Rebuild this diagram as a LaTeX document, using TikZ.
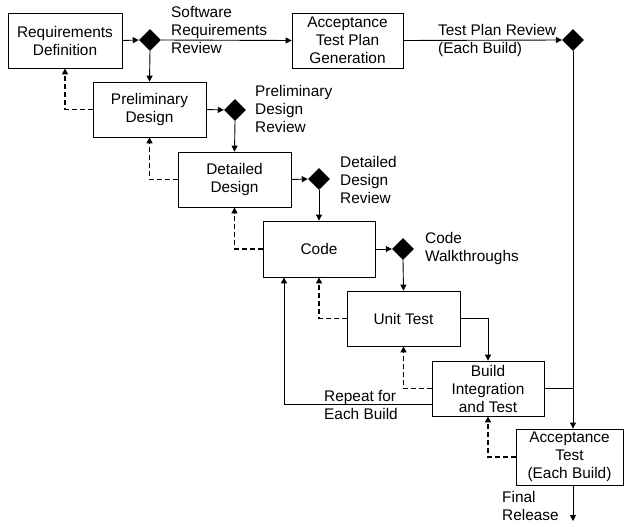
\documentclass[tikz,border=0pt]{standalone}
\usepackage{fontspec}
\setmainfont{Liberation Sans}
\usetikzlibrary{shapes.geometric,arrows.meta}
\begin{document}
\begin{tikzpicture}[x=1pt,y=-1pt,
  every node/.style={font=\fontsize{15.4}{18}\selectfont},
  box/.style={draw, line width=0.8pt, minimum width=113pt, minimum height=55pt, inner sep=0pt, align=center},
  gate/.style={shape=diamond, fill=black, minimum width=22pt, minimum height=22pt, inner sep=0pt},
  lbl/.style={anchor=west, align=left, inner sep=0pt},
  conn/.style={line width=0.9pt},
  arr/.style={conn, -{Triangle[length=6pt,width=6pt]}},
  back/.style={arr, line width=1.3pt, dash pattern=on 5pt off 3pt}
]
\useasboundingbox (0,0) rectangle (624,527);
% boxes
\node[box, minimum width=114pt] (req) at (65,40.5) {Requirements\\Definition};
\node[box, minimum width=111pt] (atp) at (347.5,40.5) {Acceptance\\Test Plan\\Generation};
\node[box] (pd) at (149.5,109.5) {Preliminary\\Design};
\node[box] (dd) at (234.5,179.5) {Detailed\\Design};
\node[box, minimum width=112pt, minimum height=56pt] (code) at (319,249) {Code};
\node[box] (ut) at (403.5,318.5) {Unit Test};
\node[box, minimum width=112pt] (bit) at (488,388.5) {Build\\Integration\\and Test};
\node[box, minimum width=107pt, minimum height=56pt] (at) at (569.5,457) {Acceptance\\Test\\(Each Build)};
% gates
\node[gate] (d1) at (150,40) {};
\node[gate] (d2) at (235,110) {};
\node[gate] (d3) at (319,179) {};
\node[gate] (d4) at (403,249) {};
\node[gate] (d5) at (573,40) {};
% labels
\node[lbl] (l1) at (171,30) {Software\\Requirements\\Review};
\node[lbl] (l2) at (255,109) {Preliminary\\Design\\Review};
\node[lbl] (l3) at (340,179.5) {Detailed\\Design\\Review};
\node[lbl] (l4) at (425,249) {Code\\Walkthroughs};
\node[lbl] (l5) at (438,41) {Test Plan Review\\(Each Build)};
\node[lbl] (l6) at (324,405) {Repeat for\\Each Build};
\node[lbl] (l7) at (502,506) {Final\\Release};
% forward flow
\draw[arr] (req.east) -- (d1.west);
\draw[arr] (d1.east) -- (atp.west);
\draw[arr] (d1.south) -- (pd.north);
\draw[arr] (atp.east) -- (d5.west);
\draw[arr] (d5.south) -- (d5.south |- at.north);
\draw[arr] (pd.east) -- (d2.west);
\draw[arr] (d2.south) -- (dd.north);
\draw[arr] (dd.east) -- (d3.west);
\draw[arr] (d3.south) -- (code.north);
\draw[arr] (code.east) -- (d4.west);
\draw[arr] (d4.south) -- (ut.north);
\draw[arr] (ut.east) -| (bit.north);
\draw[conn] (bit.east) -- (bit.east -| d5.south);
\coordinate (repA) at (432,404);
\coordinate (repB) at (284,404);
\draw[arr] (repA) -- (repB) -- (repB |- code.south);
\coordinate (fin) at (573,521);
\draw[arr] (d5.south |- at.south) -- (fin);
% feedback
\draw[back] (pd.west) -| (req.south);
\draw[back] (dd.west) -| (pd.south);
\draw[back] (code.west) -| (dd.south);
\draw[back] (ut.west) -| (code.south);
\draw[back] (bit.west) -| (ut.south);
\draw[back] (at.west) -| (bit.south);
\end{tikzpicture}
\end{document}
